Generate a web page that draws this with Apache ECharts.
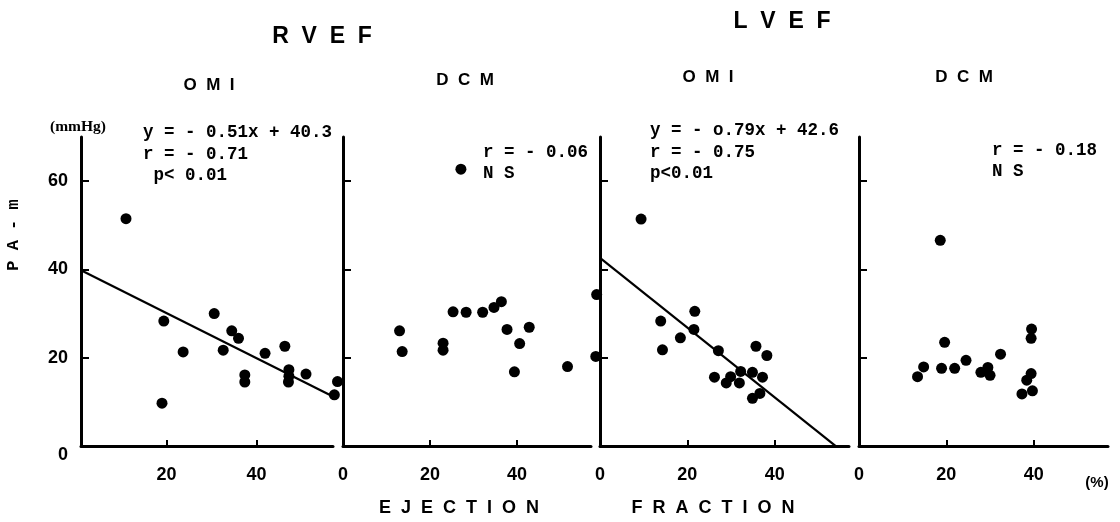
<!DOCTYPE html>
<html><head><meta charset="utf-8">
<script src="https://cdn.jsdelivr.net/npm/echarts@6/dist/echarts.min.js"></script>
<style>html,body{margin:0;padding:0;background:#fff}#c{width:1120px;height:522px}</style>
</head><body><div id="c"></div>
<script>
// ---- data (x: ejection fraction %, y: PA-m mmHg) ----
const rvefOmi = [[11,51.5],[19.4,28.3],[19,9.7],[23.7,21.3],[30.6,30],[32.6,21.7],[34.5,26.1],[36,24.4],[37.4,16.1],[37.4,14.5],[41.9,21],[46.3,22.6],[47.2,17.3],[47.2,15.8],[47.1,14.5],[51,16.3],[57.3,11.6],[58,14.6]];
const rvefDcm = [[27.1,62.7],[13,26.1],[13.6,21.4],[23,23.3],[23,21.7],[25.3,30.4],[28.3,30.3],[32.1,30.3],[34.7,31.4],[36.4,32.7],[37.7,26.4],[42.8,26.9],[40.6,23.2],[39.4,16.8],[51.6,18],[58.3,34.3],[58.1,20.3]];
const lvefOmi = [[9.4,51.4],[13.9,28.3],[14.3,21.8],[18.4,24.5],[21.7,30.5],[21.5,26.4],[27.1,21.6],[26.2,15.6],[28.9,14.3],[29.9,15.7],[31.9,14.3],[32.2,16.9],[34.9,16.7],[35.7,22.6],[38.2,20.5],[37.2,15.6],[36.6,11.9],[34.9,10.8]];
const lvefDcm = [[18.6,46.6],[13.4,15.7],[14.8,17.9],[19.6,23.5],[18.9,17.6],[21.9,17.6],[24.5,19.4],[27.9,16.7],[29.5,17.8],[30,16],[32.4,20.8],[39.5,26.5],[39.4,24.4],[39.4,16.4],[38.4,14.9],[37.3,11.8],[39.7,12.5]];
// regression lines: [slope, intercept, xStart, xEnd]
const rvefOmiFit = [-0.51, 40.3, 1, 58];
const lvefOmiFit = [-0.79, 42.6, 0, 53.9];
const yTicks = [0, 20, 40, 60];
const xTicks = [0, 20, 40];
const annotations = [
  ['y = - 0.51x + 40.3', 'r = - 0.71', ' p< 0.01'],
  ['r = - 0.06', 'N S'],
  ['y = - o.79x + 42.6', 'r = - 0.75', 'p<0.01'],
  ['r = - 0.18', 'N S']
];

function fitLine(f){ return [[f[2], f[0]*f[2]+f[1]], [f[3], f[0]*f[3]+f[1]]]; }

const grids = [
  {left:81, top:137, width:252, height:309},
  {left:343, top:137, width:248, height:309},
  {left:600, top:137, width:249, height:309},
  {left:859, top:137, width:249, height:309}
].map(g => Object.assign(g, {containLabel:false, outerBoundsMode:'none'}));

const axisLine = {show:true, onZero:false, lineStyle:{color:'#000', width:3}};
const xAxes = grids.map((g,i) => ({
  type:'value', gridIndex:i, min: i===0 ? 1 : 0, max:57,
  axisLine: axisLine,
  axisTick:{show:true, inside:true, length:6, lineStyle:{color:'#000', width:2}, customValues:[20,40]},
  axisLabel:{show:true, customValues: i===0 ? [20,40] : xTicks, margin:20, color:'#000',
    fontFamily:'Liberation Sans, Arial, sans-serif', fontWeight:'bold', fontSize:18},
  splitLine:{show:false}
}));
const yAxes = grids.map((g,i) => ({
  type:'value', gridIndex:i, min:0, max:70,
  axisLine: axisLine,
  axisTick:{show:true, inside:true, length:8, lineStyle:{color:'#000', width:2}, customValues:[20,40,60]},
  axisLabel:{show: i===0, customValues:yTicks, margin:13, color:'#000',
    fontFamily:'Liberation Sans, Arial, sans-serif', fontWeight:'bold', fontSize:18,
    formatter: v => v===0 ? '{z|0}' : String(v),
    rich:{z:{padding:[18,0,0,0], fontFamily:'Liberation Sans, Arial, sans-serif', fontWeight:'bold', fontSize:18, color:'#000'}}},
  splitLine:{show:false}
}));

const datasets = [rvefOmi, rvefDcm, lvefOmi, lvefDcm];
const series = datasets.map((d,i) => ({
  type:'scatter', xAxisIndex:i, yAxisIndex:i, data:d, symbolSize:11, clip:false,
  itemStyle:{color:'#000', opacity:1}
}));
series.push({type:'line', xAxisIndex:0, yAxisIndex:0, data:fitLine(rvefOmiFit), symbol:'none', clip:false, lineStyle:{color:'#000', width:2.2}});
series.push({type:'line', xAxisIndex:2, yAxisIndex:2, data:fitLine(lvefOmiFit), symbol:'none', clip:false, lineStyle:{color:'#000', width:2.2}});

const mono = "'Liberation Mono', 'Courier New', monospace";
const cond = "'Liberation Sans', Arial, sans-serif";
function txt(x, y, s, font, size, align, extra){
  return Object.assign({type:'text', x:x, y:y, style:{text:s, font:'bold '+size+'px '+font, fill:'#000', textAlign:align||'left', textVerticalAlign:'middle'}}, extra||{});
}
const annPos = [[143,133,153],[483,153,483],[650,131,650],[992,151,992]];
const graphics = [];
annotations.forEach((lines,i) => {
  const p = annPos[i];
  lines.forEach((s,j) => {
    const y0 = lines.length===3 ? p[1] + j*21.5 : p[1] + j*21;
    graphics.push(txt(p[0], y0, s, mono, 17.5));
  });
});
graphics.push(txt(322,37,'R  V  E  F',cond,23,'center'));
graphics.push(txt(782,22,'L  V  E  F',cond,23,'center'));
graphics.push(txt(209,85,'O  M  I',cond,17,'center'));
graphics.push(txt(465,80,'D  C  M',cond,17,'center'));
graphics.push(txt(708,77,'O  M  I',cond,17,'center'));
graphics.push(txt(964,77,'D  C  M',cond,17,'center'));
graphics.push(txt(459,508,'E  J  E  C  T  I  O  N',cond,18,'center'));
graphics.push(txt(713,508,'F  R  A  C  T  I  O  N',cond,18,'center'));
graphics.push(txt(78,127,'(mmHg)',"'Liberation Serif', serif",15.5,'center'));
graphics.push(txt(1097,483,'(%)',"'Liberation Sans', sans-serif",15,'center'));
graphics.push({type:'text', x:14, y:235, rotation:Math.PI/2,
  style:{text:'P A - m', font:'bold 17px '+mono, fill:'#000', textAlign:'center', textVerticalAlign:'middle'}});

const chart = echarts.init(document.getElementById('c'), null, {renderer:'canvas'});
chart.setOption({
  animation:false, backgroundColor:'#fff',
  grid:grids, xAxis:xAxes, yAxis:yAxes, series:series, graphic:graphics
});
</script></body></html>
